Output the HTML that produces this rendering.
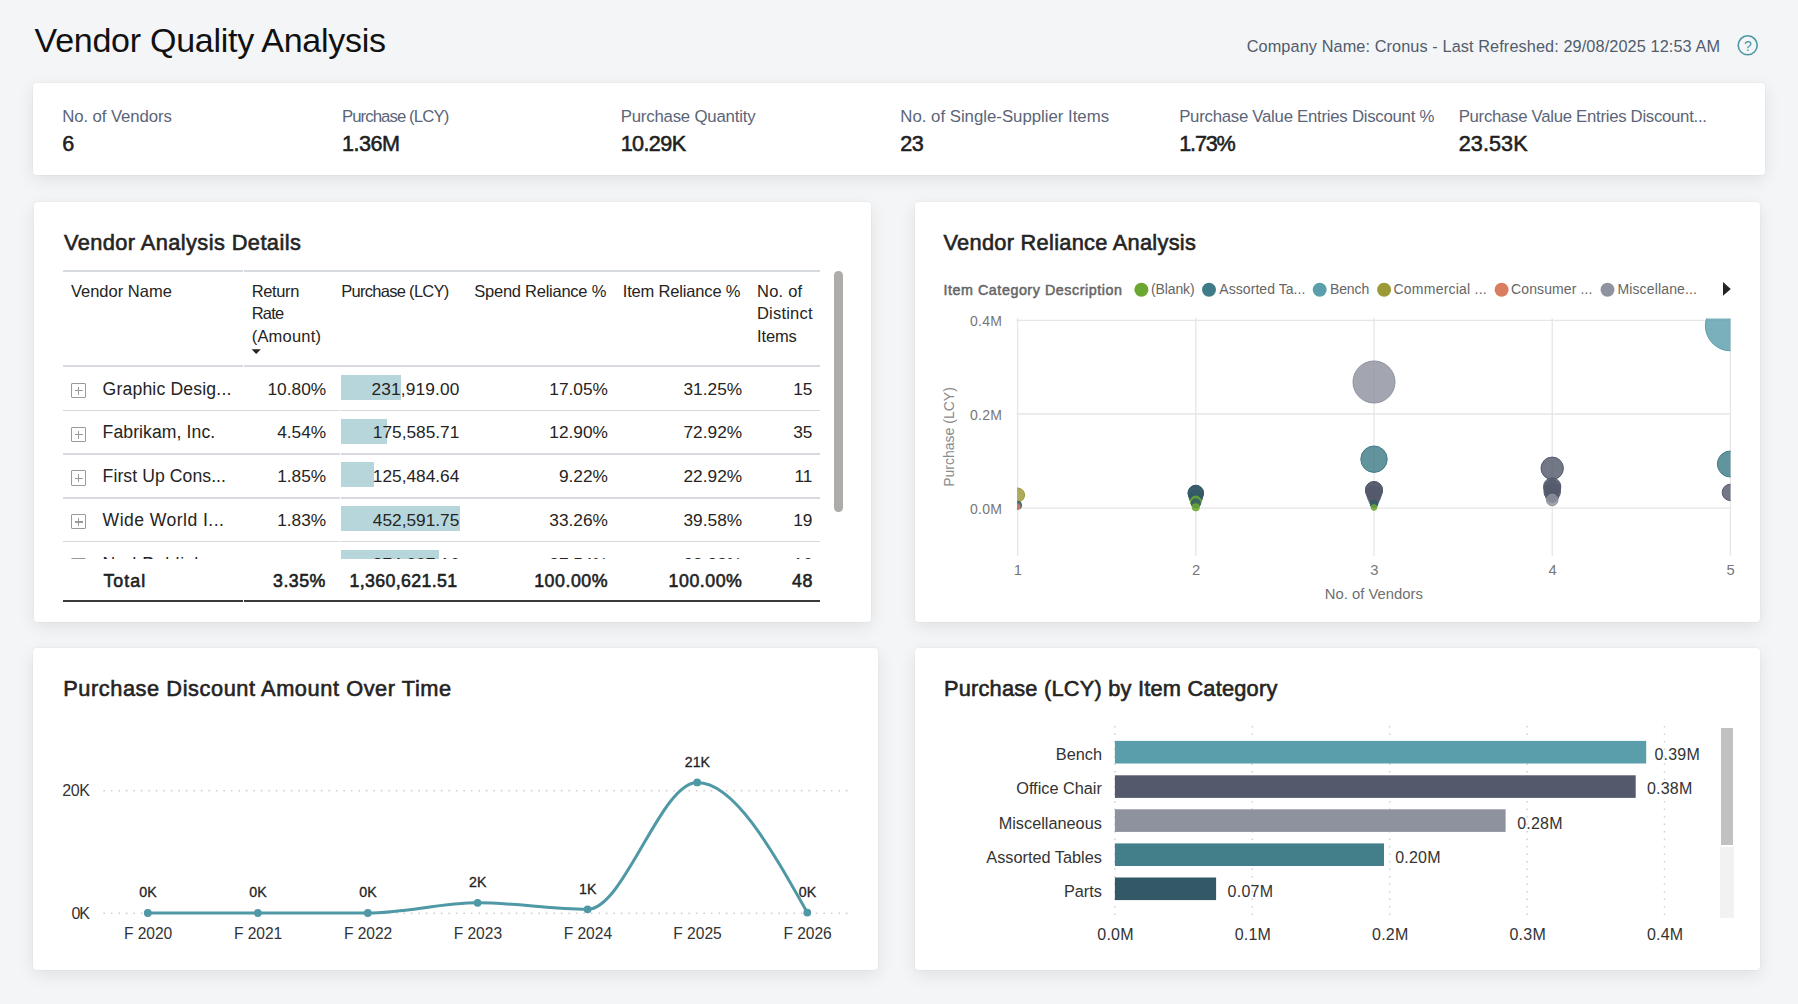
<!DOCTYPE html>
<html><head><meta charset="utf-8"><title>Vendor Quality Analysis</title>
<style>
html,body{margin:0;padding:0;width:1798px;height:1004px;overflow:hidden;background:#f4f5f7;font-family:"Liberation Sans",sans-serif;}
.t{position:absolute;white-space:nowrap;line-height:1;}
.card{position:absolute;background:#fff;border-radius:4px;box-shadow:0 0 0 1px rgba(0,0,0,0.018),0 5px 17px rgba(0,0,0,0.085);}
svg{position:absolute;left:0;top:0;overflow:visible}
</style></head><body>

<div class="t" style="top:22.90px;font-size:34px;color:#111;letter-spacing:-0.262px;left:34.60px;">Vendor Quality Analysis</div>
<div class="t" style="top:37.72px;font-size:16.3px;color:#515c6c;letter-spacing:0.094px;left:1246.70px;">Company Name: Cronus - Last Refreshed: 29/08/2025 12:53 AM</div>
<svg width="1798" height="1004"><circle cx="1747.7" cy="45.3" r="9.5" fill="none" stroke="#4a97a3" stroke-width="1.6"/></svg>
<div class="t" style="top:38.61px;font-size:14px;color:#4a97a3;left:1743.91px;">?</div>
<div class="card" style="left:33px;top:83px;width:1732px;height:92px;"></div>
<div class="t" style="top:109.21px;font-size:16.8px;color:#5b6577;letter-spacing:-0.102px;left:62.20px;">No. of Vendors</div>
<div class="t" style="top:132.91px;font-size:21.6px;color:#1f1f1f;-webkit-text-stroke:0.55px #1f1f1f;left:62.20px;">6</div>
<div class="t" style="top:109.21px;font-size:16.8px;color:#5b6577;letter-spacing:-0.926px;left:341.90px;">Purchase (LCY)</div>
<div class="t" style="top:132.91px;font-size:21.6px;color:#1f1f1f;letter-spacing:-0.487px;-webkit-text-stroke:0.55px #1f1f1f;left:341.90px;">1.36M</div>
<div class="t" style="top:109.21px;font-size:16.8px;color:#5b6577;letter-spacing:-0.201px;left:620.70px;">Purchase Quantity</div>
<div class="t" style="top:132.91px;font-size:21.6px;color:#1f1f1f;letter-spacing:-0.614px;-webkit-text-stroke:0.55px #1f1f1f;left:620.70px;">10.29K</div>
<div class="t" style="top:109.21px;font-size:16.8px;color:#5b6577;letter-spacing:-0.006px;left:900.30px;">No. of Single-Supplier Items</div>
<div class="t" style="top:132.91px;font-size:21.6px;color:#1f1f1f;letter-spacing:-0.630px;-webkit-text-stroke:0.55px #1f1f1f;left:900.30px;">23</div>
<div class="t" style="top:109.21px;font-size:16.8px;color:#5b6577;letter-spacing:-0.265px;left:1179.20px;">Purchase Value Entries Discount %</div>
<div class="t" style="top:132.91px;font-size:21.6px;color:#1f1f1f;letter-spacing:-1.159px;-webkit-text-stroke:0.55px #1f1f1f;left:1179.20px;">1.73%</div>
<div class="t" style="top:109.21px;font-size:16.8px;color:#5b6577;letter-spacing:-0.298px;left:1458.70px;">Purchase Value Entries Discount...</div>
<div class="t" style="top:132.91px;font-size:21.6px;color:#1f1f1f;letter-spacing:0.086px;-webkit-text-stroke:0.55px #1f1f1f;left:1458.70px;">23.53K</div>
<div class="card" style="left:34px;top:202px;width:837px;height:420px;"></div>
<div class="t" style="top:232.30px;font-size:21.8px;color:#252423;letter-spacing:0.409px;-webkit-text-stroke:0.6px #252423;left:64.00px;">Vendor Analysis Details</div>
<div style="position:absolute;left:63px;top:270px;width:180px;height:1.6px;background:#d6dade;"></div>
<div style="position:absolute;left:244px;top:270px;width:576px;height:1.6px;background:#d6dade;"></div>
<div class="t" style="top:282.81px;font-size:16.5px;color:#252423;letter-spacing:0.010px;left:70.90px;">Vendor Name</div>
<div class="t" style="top:282.81px;font-size:16.5px;color:#252423;letter-spacing:-0.368px;left:251.70px;">Return</div>
<div class="t" style="top:305.40px;font-size:16.5px;color:#252423;letter-spacing:-0.785px;left:251.70px;">Rate</div>
<div class="t" style="top:327.81px;font-size:16.5px;color:#252423;letter-spacing:0.206px;left:251.70px;">(Amount)</div>
<svg width="1798" height="1004"><path d="M251.6 349.2 L260.8 349.2 L256.2 354 Z" fill="#252423"/></svg>
<div class="t" style="top:282.81px;font-size:16.5px;color:#252423;letter-spacing:-0.708px;left:341.20px;">Purchase (LCY)</div>
<div class="t" style="top:282.81px;font-size:16.5px;color:#252423;letter-spacing:-0.250px;left:474.30px;">Spend Reliance %</div>
<div class="t" style="top:282.81px;font-size:16.5px;color:#252423;letter-spacing:-0.173px;left:622.80px;">Item Reliance %</div>
<div class="t" style="top:282.81px;font-size:16.5px;color:#252423;letter-spacing:0.229px;left:757.00px;">No. of</div>
<div class="t" style="top:305.40px;font-size:16.5px;color:#252423;letter-spacing:0.203px;left:757.00px;">Distinct</div>
<div class="t" style="top:327.81px;font-size:16.5px;color:#252423;letter-spacing:-0.136px;left:757.00px;">Items</div>
<div style="position:absolute;left:63px;top:365.2px;width:180px;height:1.6px;background:#d6dade;"></div>
<div style="position:absolute;left:244px;top:365.2px;width:576px;height:1.6px;background:#d6dade;"></div>
<div style="position:absolute;left:0;top:367px;width:1798px;height:191.5px;overflow:hidden">
<div style="position:absolute;left:341px;top:8.0px;width:60.4px;height:25px;background:#b7d6dc;"></div>
<div style="position:absolute;left:71.2px;top:16.00px;width:13.2px;height:13.2px;border:1.2px solid #9a9a9a;border-radius:1px"></div>
<div style="position:absolute;left:74.8px;top:23.2px;width:8px;height:1.3px;background:#9a9a9a;"></div>
<div style="position:absolute;left:78.2px;top:19.8px;width:1.3px;height:8px;background:#9a9a9a;"></div>
<div class="t" style="top:13.62px;font-size:17.6px;color:#252423;letter-spacing:0.174px;left:102.60px;">Graphic Desig...</div>
<div class="t" style="top:13.60px;font-size:17.3px;color:#252423;left:267.51px;">10.80%</div>
<div class="t" style="top:13.60px;font-size:17.3px;color:#252423;letter-spacing:0.135px;left:371.60px;">231,919.00</div>
<div class="t" style="top:13.60px;font-size:17.3px;color:#252423;left:549.31px;">17.05%</div>
<div class="t" style="top:13.60px;font-size:17.3px;color:#252423;left:683.51px;">31.25%</div>
<div class="t" style="top:13.60px;font-size:17.3px;color:#252423;left:793.25px;">15</div>
<div style="position:absolute;left:63px;top:42.57px;width:277px;height:1.5px;background:#d6dade;"></div>
<div style="position:absolute;left:341px;top:42.57px;width:479px;height:1.5px;background:#d6dade;"></div>
<div style="position:absolute;left:341px;top:51.72px;width:45.6px;height:25px;background:#b7d6dc;"></div>
<div style="position:absolute;left:71.2px;top:59.72px;width:13.2px;height:13.2px;border:1.2px solid #9a9a9a;border-radius:1px"></div>
<div style="position:absolute;left:74.8px;top:66.92px;width:8px;height:1.3px;background:#9a9a9a;"></div>
<div style="position:absolute;left:78.2px;top:63.52px;width:1.3px;height:8px;background:#9a9a9a;"></div>
<div class="t" style="top:57.46px;font-size:17.6px;color:#252423;letter-spacing:0.085px;left:102.60px;">Fabrikam, Inc.</div>
<div class="t" style="top:57.45px;font-size:17.3px;color:#252423;left:277.15px;">4.54%</div>
<div class="t" style="top:57.45px;font-size:17.3px;color:#252423;left:372.81px;">175,585.71</div>
<div class="t" style="top:57.45px;font-size:17.3px;color:#252423;left:549.31px;">12.90%</div>
<div class="t" style="top:57.45px;font-size:17.3px;color:#252423;left:683.51px;">72.92%</div>
<div class="t" style="top:57.45px;font-size:17.3px;color:#252423;left:793.25px;">35</div>
<div style="position:absolute;left:63px;top:86.29px;width:277px;height:1.5px;background:#d6dade;"></div>
<div style="position:absolute;left:341px;top:86.29px;width:479px;height:1.5px;background:#d6dade;"></div>
<div style="position:absolute;left:341px;top:95.44px;width:33.0px;height:25px;background:#b7d6dc;"></div>
<div style="position:absolute;left:71.2px;top:103.44px;width:13.2px;height:13.2px;border:1.2px solid #9a9a9a;border-radius:1px"></div>
<div style="position:absolute;left:74.8px;top:110.64px;width:8px;height:1.3px;background:#9a9a9a;"></div>
<div style="position:absolute;left:78.2px;top:107.24px;width:1.3px;height:8px;background:#9a9a9a;"></div>
<div class="t" style="top:101.31px;font-size:17.6px;color:#252423;letter-spacing:0.078px;left:102.60px;">First Up Cons...</div>
<div class="t" style="top:101.30px;font-size:17.3px;color:#252423;left:277.15px;">1.85%</div>
<div class="t" style="top:101.30px;font-size:17.3px;color:#252423;left:372.81px;">125,484.64</div>
<div class="t" style="top:101.30px;font-size:17.3px;color:#252423;left:558.95px;">9.22%</div>
<div class="t" style="top:101.30px;font-size:17.3px;color:#252423;left:683.51px;">22.92%</div>
<div class="t" style="top:101.30px;font-size:17.3px;color:#252423;left:794.55px;">11</div>
<div style="position:absolute;left:63px;top:130.01px;width:277px;height:1.5px;background:#d6dade;"></div>
<div style="position:absolute;left:341px;top:130.01px;width:479px;height:1.5px;background:#d6dade;"></div>
<div style="position:absolute;left:341px;top:139.16px;width:119.0px;height:25px;background:#b7d6dc;"></div>
<div style="position:absolute;left:71.2px;top:147.16px;width:13.2px;height:13.2px;border:1.2px solid #9a9a9a;border-radius:1px"></div>
<div style="position:absolute;left:74.8px;top:154.36px;width:8px;height:1.3px;background:#9a9a9a;"></div>
<div style="position:absolute;left:78.2px;top:150.96px;width:1.3px;height:8px;background:#9a9a9a;"></div>
<div class="t" style="top:145.15px;font-size:17.6px;color:#252423;letter-spacing:0.450px;left:102.60px;">Wide World I...</div>
<div class="t" style="top:145.16px;font-size:17.3px;color:#252423;left:277.15px;">1.83%</div>
<div class="t" style="top:145.16px;font-size:17.3px;color:#252423;left:372.81px;">452,591.75</div>
<div class="t" style="top:145.16px;font-size:17.3px;color:#252423;left:549.31px;">33.26%</div>
<div class="t" style="top:145.16px;font-size:17.3px;color:#252423;left:683.51px;">39.58%</div>
<div class="t" style="top:145.16px;font-size:17.3px;color:#252423;left:793.25px;">19</div>
<div style="position:absolute;left:63px;top:173.73px;width:277px;height:1.5px;background:#d6dade;"></div>
<div style="position:absolute;left:341px;top:173.73px;width:479px;height:1.5px;background:#d6dade;"></div>
<div style="position:absolute;left:341px;top:182.88px;width:98.3px;height:25px;background:#b7d6dc;"></div>
<div style="position:absolute;left:71.2px;top:190.88px;width:13.2px;height:13.2px;border:1.2px solid #9a9a9a;border-radius:1px"></div>
<div style="position:absolute;left:74.8px;top:198.08px;width:8px;height:1.3px;background:#9a9a9a;"></div>
<div style="position:absolute;left:78.2px;top:194.68px;width:1.3px;height:8px;background:#9a9a9a;"></div>
<div class="t" style="top:189.01px;font-size:17.6px;color:#252423;letter-spacing:0.649px;left:102.60px;">Nod Publish...</div>
<div class="t" style="top:189.01px;font-size:17.3px;color:#252423;left:326.20px;"></div>
<div class="t" style="top:189.01px;font-size:17.3px;color:#252423;left:372.81px;">374,007.16</div>
<div class="t" style="top:189.01px;font-size:17.3px;color:#252423;left:549.31px;">27.54%</div>
<div class="t" style="top:189.01px;font-size:17.3px;color:#252423;left:683.51px;">33.33%</div>
<div class="t" style="top:189.01px;font-size:17.3px;color:#252423;left:793.25px;">16</div>
</div>
<div class="t" style="top:572.81px;font-size:17.8px;color:#1f1f1f;letter-spacing:1.049px;-webkit-text-stroke:0.6px #1f1f1f;left:103.40px;">Total</div>
<div class="t" style="top:572.81px;font-size:17.8px;color:#1f1f1f;letter-spacing:0.459px;-webkit-text-stroke:0.6px #1f1f1f;left:273.10px;">3.35%</div>
<div class="t" style="top:572.81px;font-size:17.8px;color:#1f1f1f;letter-spacing:0.368px;-webkit-text-stroke:0.6px #1f1f1f;left:349.40px;">1,360,621.51</div>
<div class="t" style="top:572.81px;font-size:17.8px;color:#1f1f1f;letter-spacing:0.522px;-webkit-text-stroke:0.6px #1f1f1f;left:534.20px;">100.00%</div>
<div class="t" style="top:572.81px;font-size:17.8px;color:#1f1f1f;letter-spacing:0.522px;-webkit-text-stroke:0.6px #1f1f1f;left:668.60px;">100.00%</div>
<div class="t" style="top:572.81px;font-size:17.8px;color:#1f1f1f;letter-spacing:0.697px;-webkit-text-stroke:0.6px #1f1f1f;left:792.00px;">48</div>
<div style="position:absolute;left:63px;top:599.8px;width:180px;height:2px;background:#3a3a3a;"></div>
<div style="position:absolute;left:244px;top:599.8px;width:576px;height:2px;background:#3a3a3a;"></div>
<div style="position:absolute;left:834px;top:271px;width:8.8px;height:241px;background:#adacaa;border-radius:4.4px;"></div>
<div class="card" style="left:915px;top:202px;width:845px;height:420px;"></div>
<div class="t" style="top:232.21px;font-size:21.8px;color:#252423;letter-spacing:0.278px;-webkit-text-stroke:0.6px #252423;left:943.50px;">Vendor Reliance Analysis</div>
<div class="t" style="top:283.21px;font-size:14.3px;color:#666;letter-spacing:0.545px;-webkit-text-stroke:0.5px #666;left:943.50px;">Item Category Description</div>
<div class="t" style="top:281.90px;font-size:14px;color:#666;letter-spacing:-0.124px;left:1151.00px;">(Blank)</div>
<div class="t" style="top:281.90px;font-size:14px;color:#666;letter-spacing:0.059px;left:1219.30px;">Assorted Ta...</div>
<div class="t" style="top:281.90px;font-size:14px;color:#666;letter-spacing:-0.073px;left:1329.90px;">Bench</div>
<div class="t" style="top:281.90px;font-size:14px;color:#666;letter-spacing:0.228px;left:1393.50px;">Commercial ...</div>
<div class="t" style="top:281.90px;font-size:14px;color:#666;letter-spacing:0.123px;left:1511.00px;">Consumer ...</div>
<div class="t" style="top:281.90px;font-size:14px;color:#666;letter-spacing:0.150px;left:1617.40px;">Miscellane...</div>
<svg width="1798" height="1004"><circle cx="1141.4" cy="289.7" r="7" fill="#6aa832"/><circle cx="1209.0" cy="289.7" r="7" fill="#3f7c89"/><circle cx="1319.7" cy="289.7" r="7" fill="#5b9fac"/><circle cx="1384.1" cy="289.7" r="7" fill="#9c9a35"/><circle cx="1501.6" cy="289.7" r="7" fill="#d97c5f"/><circle cx="1607.5" cy="289.7" r="7" fill="#8f939f"/><path d="M1723 282 L1730.8 288.9 L1723 295.8 Z" fill="#252423"/><line x1="1016.5" y1="320.3" x2="1730.9" y2="320.3" stroke="#e6e6e6" stroke-width="1.3"/><line x1="1016.5" y1="414.0" x2="1730.9" y2="414.0" stroke="#e6e6e6" stroke-width="1.3"/><line x1="1016.5" y1="508.2" x2="1730.9" y2="508.2" stroke="#e6e6e6" stroke-width="1.3"/><line x1="1017.6" y1="318" x2="1017.6" y2="556" stroke="#e6e6e6" stroke-width="1.3"/><line x1="1195.8" y1="318" x2="1195.8" y2="556" stroke="#e6e6e6" stroke-width="1.3"/><line x1="1374.0" y1="318" x2="1374.0" y2="556" stroke="#e6e6e6" stroke-width="1.3"/><line x1="1552.2" y1="318" x2="1552.2" y2="556" stroke="#e6e6e6" stroke-width="1.3"/><line x1="1730.4" y1="318" x2="1730.4" y2="556" stroke="#e6e6e6" stroke-width="1.3"/><clipPath id="pc"><rect x="1017.2" y="318.6" width="713.3" height="240"/></clipPath><g clip-path="url(#pc)"><circle cx="1017.6" cy="495.0" r="7.0" fill="#9c9a35" fill-opacity="0.82" stroke="#9c9a35" stroke-width="1"/><circle cx="1017.6" cy="505.3" r="4.0" fill="#345966" fill-opacity="0.82" stroke="#345966" stroke-width="1"/><circle cx="1017.6" cy="507.0" r="2.5" fill="#d97c5f" fill-opacity="0.82" stroke="#d97c5f" stroke-width="1"/><circle cx="1195.8" cy="493.0" r="7.8" fill="#345966" fill-opacity="0.82" stroke="#345966" stroke-width="1"/><circle cx="1195.8" cy="493.4" r="7.6" fill="#345966" fill-opacity="0.82" stroke="#345966" stroke-width="1"/><circle cx="1195.8" cy="497.0" r="6.8" fill="#345966" fill-opacity="0.82" stroke="#345966" stroke-width="1"/><circle cx="1195.8" cy="501.5" r="5.4" fill="#6aa832" fill-opacity="0.82" stroke="#6aa832" stroke-width="1"/><circle cx="1195.8" cy="503.5" r="4.6" fill="#345966" fill-opacity="0.82" stroke="#345966" stroke-width="1"/><circle cx="1195.8" cy="507.3" r="3.6" fill="#6aa832" fill-opacity="0.82" stroke="#6aa832" stroke-width="1"/><circle cx="1374.0" cy="382.0" r="21.0" fill="#8f939f" fill-opacity="0.82" stroke="#8f939f" stroke-width="1"/><circle cx="1374.0" cy="459.2" r="13.2" fill="#3f7c89" fill-opacity="0.82" stroke="#3f7c89" stroke-width="1"/><circle cx="1374.0" cy="490.0" r="8.6" fill="#545a6b" fill-opacity="0.82" stroke="#545a6b" stroke-width="1"/><circle cx="1374.0" cy="490.5" r="8.4" fill="#545a6b" fill-opacity="0.82" stroke="#545a6b" stroke-width="1"/><circle cx="1374.0" cy="493.5" r="7.6" fill="#545a6b" fill-opacity="0.82" stroke="#545a6b" stroke-width="1"/><circle cx="1374.0" cy="497.0" r="6.4" fill="#545a6b" fill-opacity="0.82" stroke="#545a6b" stroke-width="1"/><circle cx="1374.0" cy="500.5" r="5.0" fill="#545a6b" fill-opacity="0.82" stroke="#545a6b" stroke-width="1"/><circle cx="1374.0" cy="504.0" r="3.8" fill="#345966" fill-opacity="0.82" stroke="#345966" stroke-width="1"/><circle cx="1374.0" cy="507.5" r="2.8" fill="#6aa832" fill-opacity="0.82" stroke="#6aa832" stroke-width="1"/><circle cx="1552.2" cy="468.3" r="11.2" fill="#545a6b" fill-opacity="0.82" stroke="#545a6b" stroke-width="1"/><circle cx="1552.2" cy="486.5" r="8.6" fill="#545a6b" fill-opacity="0.82" stroke="#545a6b" stroke-width="1"/><circle cx="1552.2" cy="488.5" r="8.4" fill="#545a6b" fill-opacity="0.82" stroke="#545a6b" stroke-width="1"/><circle cx="1552.2" cy="492.0" r="8.2" fill="#545a6b" fill-opacity="0.82" stroke="#545a6b" stroke-width="1"/><circle cx="1552.2" cy="496.0" r="6.5" fill="#545a6b" fill-opacity="0.82" stroke="#545a6b" stroke-width="1"/><circle cx="1552.2" cy="500.0" r="5.8" fill="#8f939f" fill-opacity="0.82" stroke="#8f939f" stroke-width="1"/><circle cx="1730.4" cy="325.8" r="25.0" fill="#5b9fac" fill-opacity="0.82" stroke="#5b9fac" stroke-width="1"/><circle cx="1730.4" cy="464.0" r="13.0" fill="#3f7c89" fill-opacity="0.82" stroke="#3f7c89" stroke-width="1"/><circle cx="1730.4" cy="492.4" r="8.2" fill="#545a6b" fill-opacity="0.82" stroke="#545a6b" stroke-width="1"/></g></svg>
<div class="t" style="top:313.81px;font-size:14px;color:#777777;letter-spacing:0.228px;left:970.00px;">0.4M</div>
<div class="t" style="top:407.51px;font-size:14px;color:#777777;letter-spacing:0.228px;left:970.00px;">0.2M</div>
<div class="t" style="top:501.70px;font-size:14px;color:#777777;letter-spacing:0.228px;left:970.00px;">0.0M</div>
<div class="t" style="top:562.80px;font-size:14.8px;color:#777777;left:1013.79px;">1</div>
<div class="t" style="top:562.80px;font-size:14.8px;color:#777777;left:1191.99px;">2</div>
<div class="t" style="top:562.80px;font-size:14.8px;color:#777777;left:1370.19px;">3</div>
<div class="t" style="top:562.80px;font-size:14.8px;color:#777777;left:1548.39px;">4</div>
<div class="t" style="top:562.80px;font-size:14.8px;color:#777777;left:1726.59px;">5</div>
<div class="t" style="top:586.71px;font-size:14.8px;color:#6f6f6f;letter-spacing:0.008px;left:1324.80px;">No. of Vendors</div>
<div class="t" style="left:948.6px;top:437px;font-size:14px;color:#8a8a8a;transform:translate(-50%,-50%) rotate(-90deg);">Purchase (LCY)</div>
<div class="card" style="left:33px;top:648px;width:845px;height:322px;"></div>
<div class="t" style="top:677.80px;font-size:21.8px;color:#252423;letter-spacing:0.559px;-webkit-text-stroke:0.6px #252423;left:63.20px;">Purchase Discount Amount Over Time</div>
<svg width="1798" height="1004"><line x1="103.4" y1="790.8" x2="848" y2="790.8" stroke="#cdcdcd" stroke-width="1.5" stroke-dasharray="1.5 6"/><line x1="103.4" y1="913.2" x2="848" y2="913.2" stroke="#cdcdcd" stroke-width="1.5" stroke-dasharray="1.5 6"/><path d="M147.80,913.00 C184.47,913.00 221.13,913.00 257.80,913.00 C294.47,913.00 331.13,913.00 367.80,913.00 C404.40,913.00 441.00,902.80 477.60,902.80 C514.27,902.80 550.93,909.30 587.60,909.30 C624.13,909.30 660.67,782.40 697.20,782.40 C733.90,782.40 770.60,847.50 807.30,912.60" fill="none" stroke="#4f98a5" stroke-width="3"/><circle cx="147.8" cy="913.0" r="3.9" fill="#4f98a5"/><circle cx="257.8" cy="913.0" r="3.9" fill="#4f98a5"/><circle cx="367.8" cy="913.0" r="3.9" fill="#4f98a5"/><circle cx="477.6" cy="902.8" r="3.9" fill="#4f98a5"/><circle cx="587.6" cy="909.3" r="3.9" fill="#4f98a5"/><circle cx="697.2" cy="782.4" r="3.9" fill="#4f98a5"/><circle cx="807.3" cy="912.6" r="3.9" fill="#4f98a5"/></svg>
<div class="t" style="top:783.21px;font-size:16px;color:#333;letter-spacing:-0.340px;left:62.20px;">20K</div>
<div class="t" style="top:905.60px;font-size:16px;color:#333;letter-spacing:-1.060px;left:71.50px;">0K</div>
<div class="t" style="top:884.90px;font-size:14.2px;color:#252423;-webkit-text-stroke:0.3px #252423;left:139.32px;">0K</div>
<div class="t" style="top:884.90px;font-size:14.2px;color:#252423;-webkit-text-stroke:0.3px #252423;left:249.32px;">0K</div>
<div class="t" style="top:884.90px;font-size:14.2px;color:#252423;-webkit-text-stroke:0.3px #252423;left:359.32px;">0K</div>
<div class="t" style="top:875.21px;font-size:14.2px;color:#252423;-webkit-text-stroke:0.3px #252423;left:469.12px;">2K</div>
<div class="t" style="top:882.01px;font-size:14.2px;color:#252423;-webkit-text-stroke:0.3px #252423;left:579.12px;">1K</div>
<div class="t" style="top:754.61px;font-size:14.2px;color:#252423;-webkit-text-stroke:0.3px #252423;left:684.76px;">21K</div>
<div class="t" style="top:884.90px;font-size:14.2px;color:#252423;-webkit-text-stroke:0.3px #252423;left:798.82px;">0K</div>
<div class="t" style="top:925.61px;font-size:15.6px;color:#333;letter-spacing:-0.031px;left:123.90px;">F 2020</div>
<div class="t" style="top:925.61px;font-size:15.6px;color:#333;letter-spacing:-0.031px;left:233.90px;">F 2021</div>
<div class="t" style="top:925.61px;font-size:15.6px;color:#333;letter-spacing:-0.031px;left:343.90px;">F 2022</div>
<div class="t" style="top:925.61px;font-size:15.6px;color:#333;letter-spacing:-0.031px;left:453.70px;">F 2023</div>
<div class="t" style="top:925.61px;font-size:15.6px;color:#333;letter-spacing:-0.031px;left:563.70px;">F 2024</div>
<div class="t" style="top:925.61px;font-size:15.6px;color:#333;letter-spacing:-0.031px;left:673.30px;">F 2025</div>
<div class="t" style="top:925.61px;font-size:15.6px;color:#333;letter-spacing:-0.031px;left:783.40px;">F 2026</div>
<div class="card" style="left:915px;top:648px;width:845px;height:322px;"></div>
<div class="t" style="top:677.91px;font-size:21.8px;color:#252423;letter-spacing:0.211px;-webkit-text-stroke:0.6px #252423;left:943.90px;">Purchase (LCY) by Item Category</div>
<svg width="1798" height="1004"><line x1="1114.9" y1="726" x2="1114.9" y2="920" stroke="#d2d2d2" stroke-width="1.5" stroke-dasharray="1.5 6"/><line x1="1252.3" y1="726" x2="1252.3" y2="920" stroke="#d2d2d2" stroke-width="1.5" stroke-dasharray="1.5 6"/><line x1="1389.7" y1="726" x2="1389.7" y2="920" stroke="#d2d2d2" stroke-width="1.5" stroke-dasharray="1.5 6"/><line x1="1527.1" y1="726" x2="1527.1" y2="920" stroke="#d2d2d2" stroke-width="1.5" stroke-dasharray="1.5 6"/><line x1="1664.5" y1="726" x2="1664.5" y2="920" stroke="#d2d2d2" stroke-width="1.5" stroke-dasharray="1.5 6"/><rect x="1114.9" y="740.9" width="531.3" height="22.6" fill="#5a9dab"/><rect x="1114.9" y="775.3" width="520.8" height="22.6" fill="#545a6b"/><rect x="1114.9" y="809.3" width="390.7" height="22.6" fill="#8e929e"/><rect x="1114.9" y="843.4" width="269.1" height="22.6" fill="#427f8a"/><rect x="1114.9" y="877.5" width="101.2" height="22.6" fill="#345966"/></svg>
<div class="t" style="top:746.31px;font-size:16.3px;color:#333;left:1055.79px;">Bench</div>
<div class="t" style="top:747.31px;font-size:16px;color:#333;letter-spacing:0.230px;left:1654.40px;">0.39M</div>
<div class="t" style="top:780.47px;font-size:16.3px;color:#333;left:1016.22px;">Office Chair</div>
<div class="t" style="top:781.46px;font-size:16px;color:#333;letter-spacing:0.230px;left:1646.90px;">0.38M</div>
<div class="t" style="top:814.61px;font-size:16.3px;color:#333;left:998.70px;">Miscellaneous</div>
<div class="t" style="top:815.60px;font-size:16px;color:#333;letter-spacing:0.230px;left:1517.20px;">0.28M</div>
<div class="t" style="top:848.77px;font-size:16.3px;color:#333;left:986.31px;">Assorted Tables</div>
<div class="t" style="top:849.76px;font-size:16px;color:#333;letter-spacing:0.230px;left:1395.20px;">0.20M</div>
<div class="t" style="top:882.91px;font-size:16.3px;color:#333;left:1063.94px;">Parts</div>
<div class="t" style="top:883.90px;font-size:16px;color:#333;letter-spacing:0.230px;left:1227.60px;">0.07M</div>
<div class="t" style="top:926.51px;font-size:16px;color:#333;letter-spacing:0.213px;left:1097.30px;">0.0M</div>
<div class="t" style="top:926.51px;font-size:16px;color:#333;letter-spacing:0.213px;left:1234.70px;">0.1M</div>
<div class="t" style="top:926.51px;font-size:16px;color:#333;letter-spacing:0.213px;left:1372.10px;">0.2M</div>
<div class="t" style="top:926.51px;font-size:16px;color:#333;letter-spacing:0.213px;left:1509.50px;">0.3M</div>
<div class="t" style="top:926.51px;font-size:16px;color:#333;letter-spacing:0.213px;left:1646.90px;">0.4M</div>
<div style="position:absolute;left:1720.2px;top:847px;width:13.7px;height:71px;background:#f2f2f2;"></div>
<div style="position:absolute;left:1721.2px;top:728px;width:11.6px;height:117px;background:#c1c1c1;"></div>
</body></html>
